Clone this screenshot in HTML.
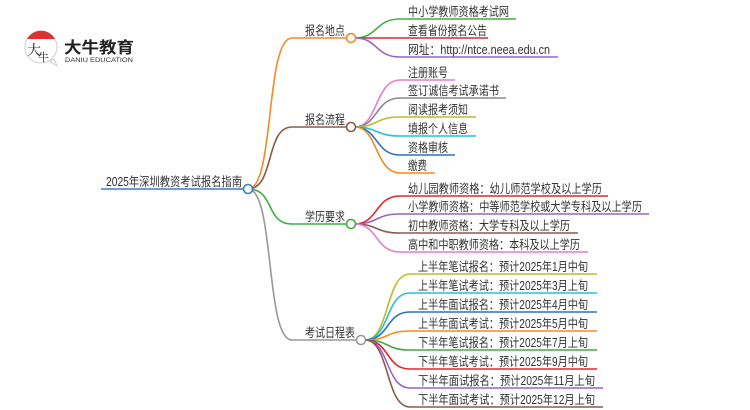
<!DOCTYPE html>
<html><head><meta charset="utf-8"><style>
html,body{margin:0;padding:0;background:#fff;width:750px;height:410px;overflow:hidden}
svg text{font-family:"Liberation Sans","Noto Sans CJK SC",sans-serif;fill:#333;font-size:12.5px}
</style></head><body>
<svg width="750" height="410" viewBox="0 0 750 410" xmlns="http://www.w3.org/2000/svg" fill="none" stroke-width="1.6">
<!-- logo -->
<circle cx="41" cy="47" r="16" fill="#fff" stroke="#ccc" stroke-width="1"/>
<path d="M27 39 A16 16 0 0 1 55 39 Z" fill="#e03030" stroke="none"/>
<path d="M50 62 L57 66 L54 59 Z" fill="#fff" stroke="#ccc" stroke-width="1"/>
<text x="27" y="55" style="font-size:14px;fill:#222;font-family:'Noto Serif CJK SC',serif">大</text>
<text x="38" y="61" style="font-size:11px;fill:#222;font-family:'Noto Serif CJK SC',serif">牛</text>
<text x="64" y="53" textLength="70" lengthAdjust="spacingAndGlyphs" style="font-size:16px;font-weight:bold;fill:#222">大牛教育</text>
<text x="65" y="62" textLength="68" lengthAdjust="spacingAndGlyphs" style="font-size:6px;fill:#333">DANIU EDUCATION</text>

<text x="106" y="186" textLength="136" lengthAdjust="spacingAndGlyphs">2025年深圳教资考试报名指南</text>
<path d="M101 189 H244" stroke="#3a7dc9"/>

<path d="M248 189 C275 189 265 38 292 38 H347" stroke="#f7891f"/>
<path d="M248 189 C275 189 265 127 292 127 H347" stroke="#8b5a4a"/>
<path d="M248 189 C275 189 265 224 292 224 H347" stroke="#3cb043"/>
<path d="M248 189 C275 189 265 340 292 340 H357" stroke="#999"/>
<circle cx="248" cy="189" r="4.5" fill="#fff" stroke="#3a7dc9"/>

<text x="305" y="35" textLength="40" lengthAdjust="spacingAndGlyphs">报名地点</text>
<text x="305" y="124" textLength="40" lengthAdjust="spacingAndGlyphs">报名流程</text>
<text x="305" y="221" textLength="40" lengthAdjust="spacingAndGlyphs">学历要求</text>
<text x="305" y="337" textLength="50" lengthAdjust="spacingAndGlyphs">考试日程表</text>

<path d="M355 38 C378 38 375 19 400 19 H516" stroke="#3cb043"/>
<path d="M355 38 H488" stroke="#e3262b"/>
<path d="M355 38 C378 38 375 57 400 57 H558" stroke="#9a63c8"/>
<circle cx="351" cy="38" r="4.5" fill="#fff" stroke="#f7891f"/>
<text x="408" y="16" textLength="101" lengthAdjust="spacingAndGlyphs">中小学教师资格考试网</text>
<text x="408" y="35" textLength="79" lengthAdjust="spacingAndGlyphs">查看省份报名公告</text>
<text x="408" y="54" textLength="142" lengthAdjust="spacingAndGlyphs">网址：http://ntce.neea.edu.cn</text>

<path d="M355 127 C378 127 375 80 400 80 H455" stroke="#e67bd0"/>
<path d="M355 127 C378 127 375 98 400 98 H506" stroke="#888"/>
<path d="M355 127 C378 127 375 117 400 117 H476" stroke="#bcbc2a"/>
<path d="M355 127 C378 127 375 136 400 136 H476" stroke="#27c0d8"/>
<path d="M355 127 C378 127 375 155 400 155 H455" stroke="#2a72c0"/>
<path d="M355 127 C378 127 375 173 400 173 H435" stroke="#f7891f"/>
<circle cx="351" cy="127" r="4.5" fill="#fff" stroke="#8b5a4a"/>
<text x="408" y="77" textLength="40" lengthAdjust="spacingAndGlyphs">注册账号</text>
<text x="408" y="95" textLength="91" lengthAdjust="spacingAndGlyphs">签订诚信考试承诺书</text>
<text x="408" y="114" textLength="60" lengthAdjust="spacingAndGlyphs">阅读报考须知</text>
<text x="408" y="133" textLength="60" lengthAdjust="spacingAndGlyphs">填报个人信息</text>
<text x="408" y="152" textLength="40" lengthAdjust="spacingAndGlyphs">资格审核</text>
<text x="408" y="170" textLength="19" lengthAdjust="spacingAndGlyphs">缴费</text>

<path d="M355 224 C378 224 375 196 400 196 H608" stroke="#e3262b"/>
<path d="M355 224 C378 224 375 214 400 214 H649" stroke="#9a63c8"/>
<path d="M355 224 C378 224 375 233 400 233 H578" stroke="#8b5a4a"/>
<path d="M355 224 C378 224 375 252 400 252 H588" stroke="#e67bd0"/>
<circle cx="351" cy="224" r="4.5" fill="#fff" stroke="#3cb043"/>
<text x="408" y="193" textLength="194" lengthAdjust="spacingAndGlyphs">幼儿园教师资格：幼儿师范学校及以上学历</text>
<text x="408" y="211" textLength="234" lengthAdjust="spacingAndGlyphs">小学教师资格：中等师范学校或大学专科及以上学历</text>
<text x="408" y="230" textLength="162" lengthAdjust="spacingAndGlyphs">初中教师资格：大学专科及以上学历</text>
<text x="408" y="249" textLength="172" lengthAdjust="spacingAndGlyphs">高中和中职教师资格：本科及以上学历</text>

<path d="M365 340 C390 340 385 274 410 274 H597" stroke="#bcbc2a"/>
<path d="M365 340 C390 340 385 293 410 293 H597" stroke="#27c0d8"/>
<path d="M365 340 C390 340 385 312 410 312 H597" stroke="#2a72c0"/>
<path d="M365 340 C390 340 385 331 410 331 H597" stroke="#f7891f"/>
<path d="M365 340 C390 340 385 350 410 350 H597" stroke="#3cb043"/>
<path d="M365 340 C390 340 385 369 410 369 H597" stroke="#e3262b"/>
<path d="M365 340 C390 340 385 388 410 388 H603" stroke="#9a63c8"/>
<path d="M365 340 C390 340 385 407 410 407 H603" stroke="#8b5a4a"/>
<circle cx="361" cy="340" r="4.5" fill="#fff" stroke="#999"/>
<text x="418" y="271" textLength="170" lengthAdjust="spacingAndGlyphs">上半年笔试报名：预计2025年1月中旬</text>
<text x="418" y="290" textLength="170" lengthAdjust="spacingAndGlyphs">上半年笔试考试：预计2025年3月上旬</text>
<text x="418" y="309" textLength="170" lengthAdjust="spacingAndGlyphs">上半年面试报名：预计2025年4月中旬</text>
<text x="418" y="328" textLength="170" lengthAdjust="spacingAndGlyphs">上半年面试考试：预计2025年5月中旬</text>
<text x="418" y="347" textLength="170" lengthAdjust="spacingAndGlyphs">下半年笔试报名：预计2025年7月上旬</text>
<text x="418" y="366" textLength="170" lengthAdjust="spacingAndGlyphs">下半年笔试考试：预计2025年9月中旬</text>
<text x="418" y="385" textLength="177" lengthAdjust="spacingAndGlyphs">下半年面试报名：预计2025年11月上旬</text>
<text x="418" y="404" textLength="177" lengthAdjust="spacingAndGlyphs">下半年面试考试：预计2025年12月上旬</text>
</svg>
</body></html>
